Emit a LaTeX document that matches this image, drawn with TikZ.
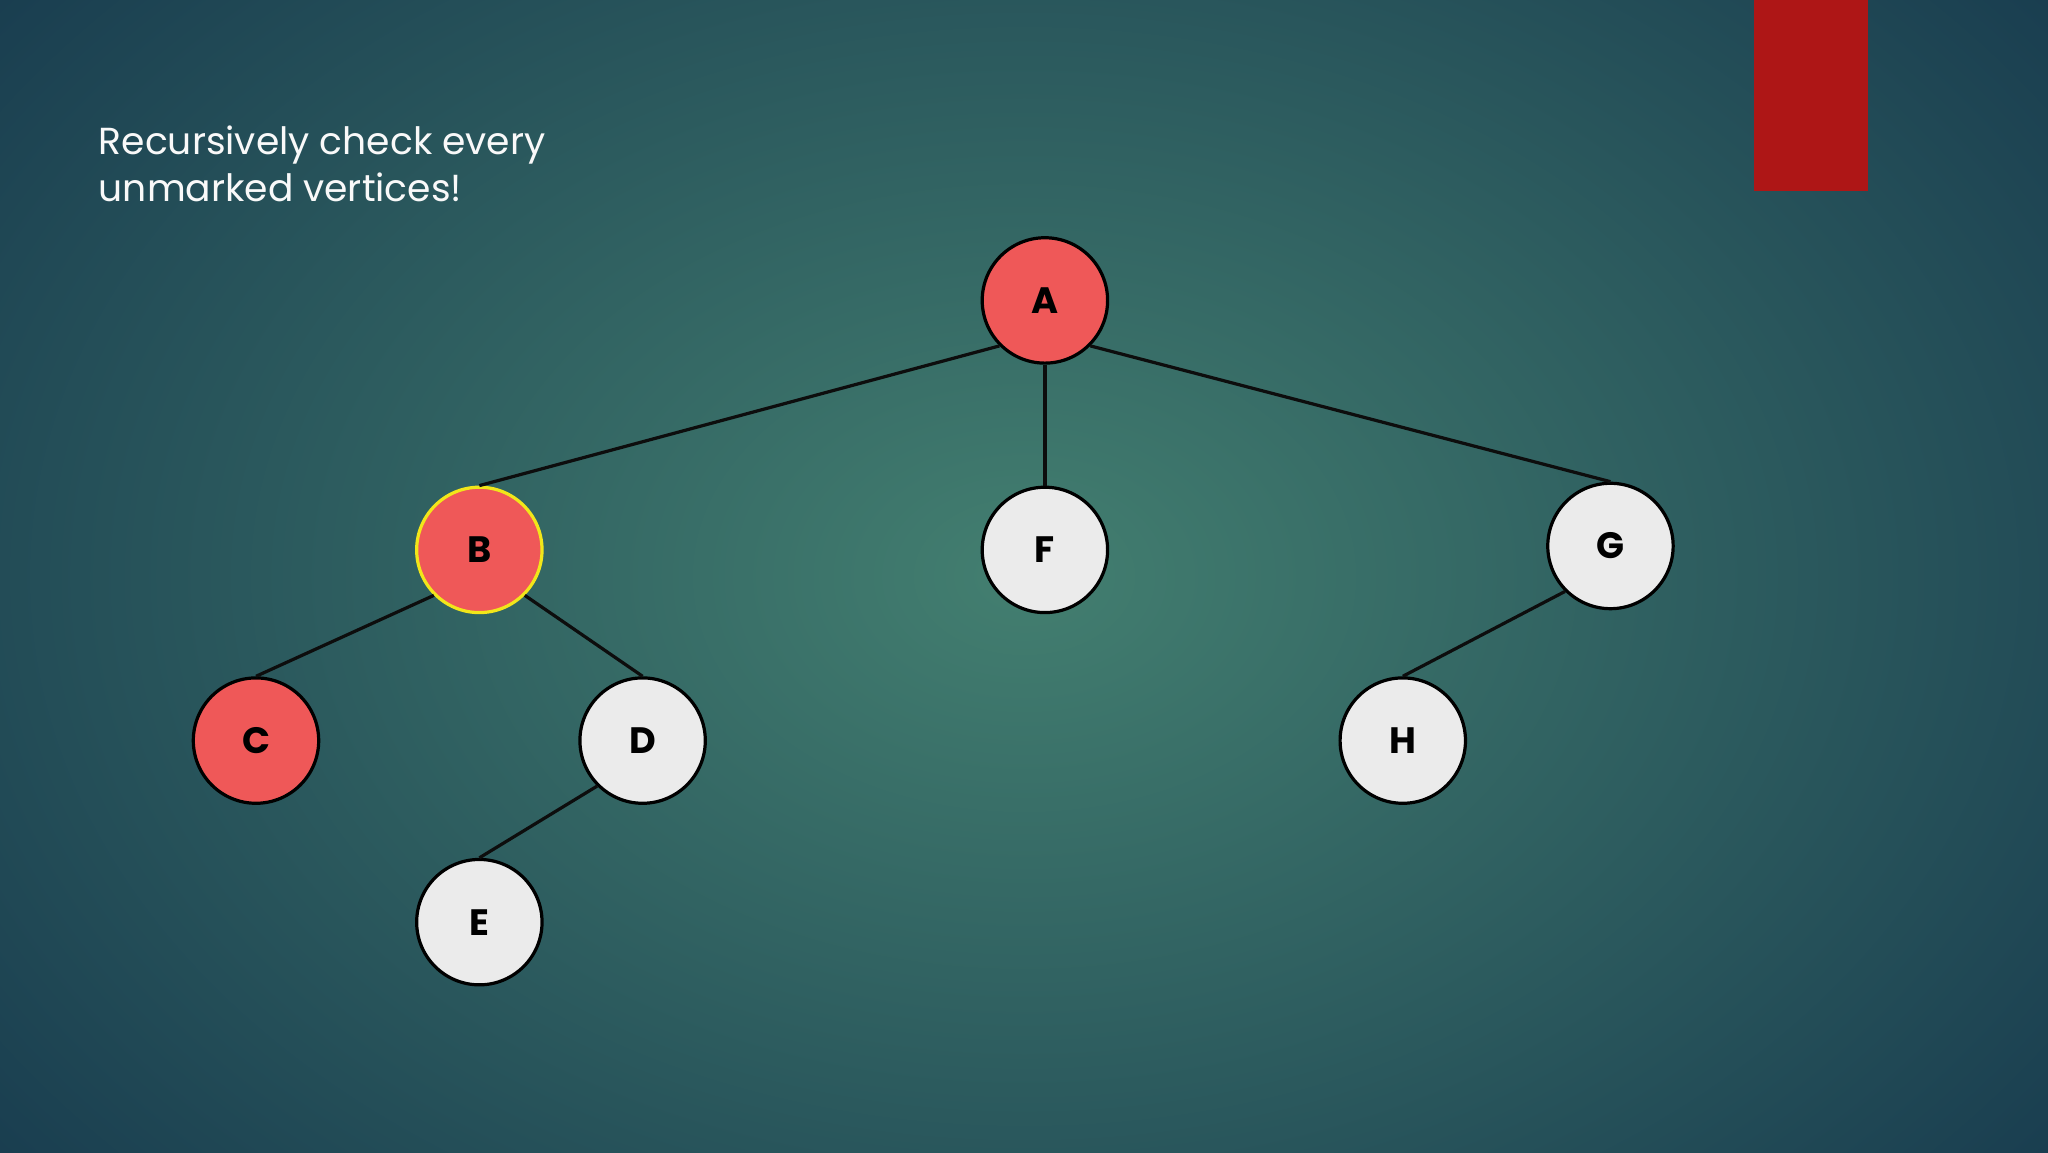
\documentclass[tikz,border=0pt]{standalone}
\usepackage{fontspec}
\setmainfont{Poppins}
\usetikzlibrary{shadings}
\definecolor{bgin}{HTML}{437F70}
\definecolor{bgout}{HTML}{12324A}
\definecolor{vred}{HTML}{EF5858}
\definecolor{vgray}{HTML}{EBEBEB}
\definecolor{barred}{HTML}{AE1616}
\definecolor{byel}{HTML}{F2E61A}
\begin{document}
\begin{tikzpicture}[x=1cm,y=-1cm,
  vert/.style={circle,draw=black,line width=0.7pt,minimum size=0.96cm,inner sep=0pt,font=\bfseries\fontsize{8}{9}\selectfont},
  redv/.style={vert,fill=vred},
  grayv/.style={vert,fill=vgray},
  edge/.style={line width=0.7pt,draw=black!95}]
\useasboundingbox (0,0) rectangle (15.68,8.82);
\shade[inner color=bgin,outer color=bgout] (-4,-4) rectangle (19.68,12.82);
\fill[barred] (13.43,0) rectangle (14.30,1.46);
\node[anchor=north west,align=left,text=white!95!gray,font=\fontsize{8.2}{10.2}\selectfont,inner sep=0pt] (t) at (0.75,0.96) {Recursively check every\\unmarked vertices!};
\node[redv] (A) at (8.00,2.30) {A};
\node[redv,draw=byel] (B) at (3.67,4.21) {B};
\node[grayv] (F) at (8.00,4.21) {F};
\node[grayv] (G) at (12.33,4.18) {G};
\node[redv] (C) at (1.96,5.67) {C};
\node[grayv] (D) at (4.92,5.67) {D};
\node[grayv] (H) at (10.74,5.67) {H};
\node[grayv] (E) at (3.67,7.06) {E};
\draw[edge] (A.south west) -- (B.north);
\draw[edge] (A) -- (F);
\draw[edge] (A.south east) -- (G.north);
\draw[edge] (B.south west) -- (C.north);
\draw[edge] (B.south east) -- (D.north);
\draw[edge] (D.south west) -- (E.north);
\draw[edge] (G.south west) -- (H.north);
\end{tikzpicture}
\end{document}
